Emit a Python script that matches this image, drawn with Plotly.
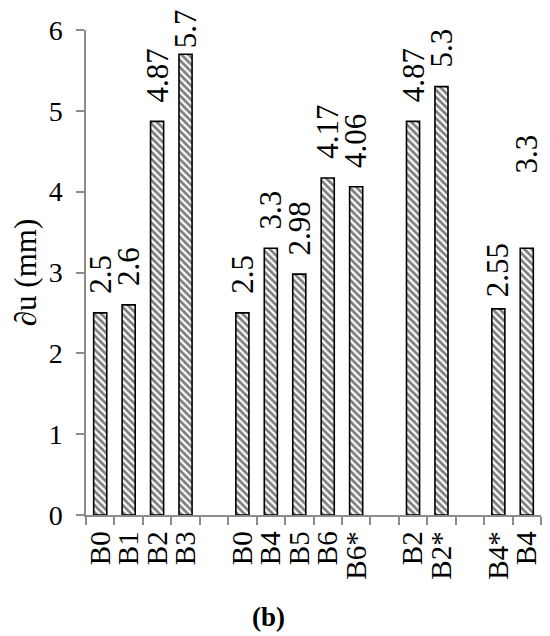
import plotly.graph_objects as go

# data (blank entries are the gaps between groups)
labels = ["B0", "B1", "B2", "B3", "",
          "B0", "B4", "B5", "B6", "B6*", "",
          "B2", "B2*", "",
          "B4*", "B4"]
values = [2.5, 2.6, 4.87, 5.7, None,
          2.5, 3.3, 2.98, 4.17, 4.06, None,
          4.87, 5.3, None,
          2.55, 3.3]
y_ticks = [0, 1, 2, 3, 4, 5, 6]

FONT = "Liberation Serif"
AXIS_GREY = "#8c8c8c"

xs = list(range(len(labels)))

fig = go.Figure()

fig.add_trace(go.Bar(
    x=xs,
    y=values,
    width=0.46,
    marker=dict(
        color="white",
        line=dict(color="black", width=1.6),
        pattern=dict(shape="\\", fgcolor="black", bgcolor="white",
                     size=5, solidity=0.55),
    ),
    hoverinfo="skip",
))

# value labels, rotated, above each bar (a couple nudged like the original)
extra_shift = {3: -13, 14: -7, 15: 56}
for i, v in enumerate(values):
    if v is None:
        continue
    fig.add_annotation(
        x=i, y=v,
        text=f"{v:g}",
        textangle=-90,
        showarrow=False,
        xanchor="center", yanchor="bottom",
        yshift=17 + extra_shift.get(i, 0),
        font=dict(family=FONT, size=31, color="black"),
    )

# caption
fig.add_annotation(
    x=0.40, y=-0.21, xref="paper", yref="paper",
    text="<b>(b)</b>", showarrow=False,
    xanchor="center", yanchor="middle",
    font=dict(family=FONT, size=27, color="black"),
)

# the page body adds an 8px margin, so the figure is 8px smaller
fig.update_layout(
    width=542, height=628,
    margin=dict(l=76, r=9, t=7, b=121),
    paper_bgcolor="white",
    plot_bgcolor="white",
    showlegend=False,
    font=dict(family=FONT, color="black"),
    xaxis=dict(
        range=[-0.5, len(labels) - 0.5],
        tickmode="array",
        tickvals=xs,
        ticktext=labels,
        tickangle=-90,
        ticks="",
        ticklabelstandoff=3,
        tickfont=dict(family=FONT, size=29, color="black"),
        showline=True, linecolor=AXIS_GREY, linewidth=1.5,
        showgrid=False, zeroline=False,
        minor=dict(
            tickmode="array",
            tickvals=[i - 0.5 for i in range(len(labels) + 1)],
            ticks="outside", ticklen=8, tickcolor=AXIS_GREY, tickwidth=1.5,
            showgrid=False,
        ),
    ),
    yaxis=dict(
        range=[0, 6],
        tickmode="array",
        tickvals=y_ticks,
        ticks="outside", ticklen=8, tickcolor=AXIS_GREY, tickwidth=1.5,
        ticklabelstandoff=8,
        ticklabeloverflow="allow",
        tickfont=dict(family=FONT, size=28, color="black"),
        showline=True, linecolor=AXIS_GREY, linewidth=1.5,
        showgrid=False, zeroline=False,
        title=dict(text="∂u (mm)", standoff=12,
                   font=dict(family=FONT, size=31, color="black")),
    ),
)

fig.write_html("out.html")
